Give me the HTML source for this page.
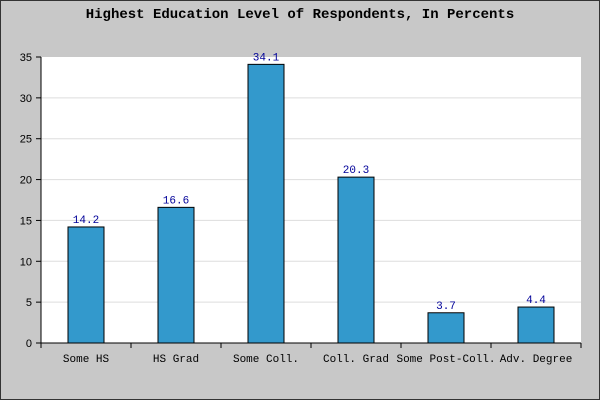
<!DOCTYPE html>
<html><head><meta charset="utf-8"><style>
body{margin:0;background:#c8c8c8}
svg{display:block}
</style></head><body>
<svg id="c" width="600" height="400" xmlns="http://www.w3.org/2000/svg">
<rect x="0.5" y="0.5" width="599" height="399" fill="#c8c8c8" stroke="#333"/>
<text x="300" y="18" text-anchor="middle" font-family="Liberation Mono, monospace" font-weight="bold" font-size="14" fill="#000">Highest Education Level of Respondents, In Percents</text>
<rect x="41" y="57" width="540" height="286" fill="#fff"/>
<g id="grid"></g><g id="bars"></g><g id="axes"></g>
</svg>
<script>
const categories=["Some HS","HS Grad","Some Coll.","Coll. Grad","Some Post-Coll.","Adv. Degree"];
const values=[14.2,16.6,34.1,20.3,3.7,4.4];
const yTicks=[0,5,10,15,20,25,30,35];
const NS="http://www.w3.org/2000/svg";
const L=41,R=581,T=57,B=343,yMax=35;
const y=v=>B-(v/yMax)*(B-T);
const step=(R-L)/categories.length;
const x=i=>L+step*(i+0.5);
function mk(tag,attrs,parent,text){const e=document.createElementNS(NS,tag);for(const k in attrs)e.setAttribute(k,attrs[k]);if(text!==undefined)e.textContent=text;document.getElementById(parent).appendChild(e);return e;}
yTicks.forEach(t=>{
  if(t>0&&t<yMax){const g=mk("line",{x1:L,x2:R,y1:y(t),y2:y(t),stroke:"#ddd"},"grid");
  
  }
  const tk=mk("line",{x1:L-5,x2:L,y1:y(t),y2:y(t),stroke:"#000"},"axes");
  
  
  const lb=mk("text",{x:L-9,y:y(t)+4,"text-anchor":"end","font-family":"Liberation Sans, sans-serif","font-size":"11"},"axes",String(t));
  
  
});
categories.forEach((c,i)=>{
  const bw=36;
  const b=mk("rect",{x:x(i)-bw/2,y:y(values[i]),width:bw,height:B-y(values[i]),fill:"#3399cc",stroke:"#000"},"bars");
  
  
  const v=mk("text",{x:x(i),y:y(values[i])-4,"text-anchor":"middle","font-family":"Liberation Mono, monospace","font-size":"11",fill:"#000099"},"bars",values[i].toFixed(1));
  
  
  const l=mk("text",{x:x(i),y:B+19,"text-anchor":"middle","font-family":"Liberation Mono, monospace","font-size":"11"},"axes",c);
  
  
});
for(let i=0;i<=categories.length;i++){
  const t=mk("line",{x1:L+step*i,x2:L+step*i,y1:B,y2:B+5,stroke:"#000"},"axes");
  
  
}
const ya=mk("line",{x1:L,x2:L,y1:T,y2:B,stroke:"#000"},"axes");


const xa=mk("line",{x1:L,x2:R,y1:B,y2:B,stroke:"#000"},"axes");


</script>
</body></html>
